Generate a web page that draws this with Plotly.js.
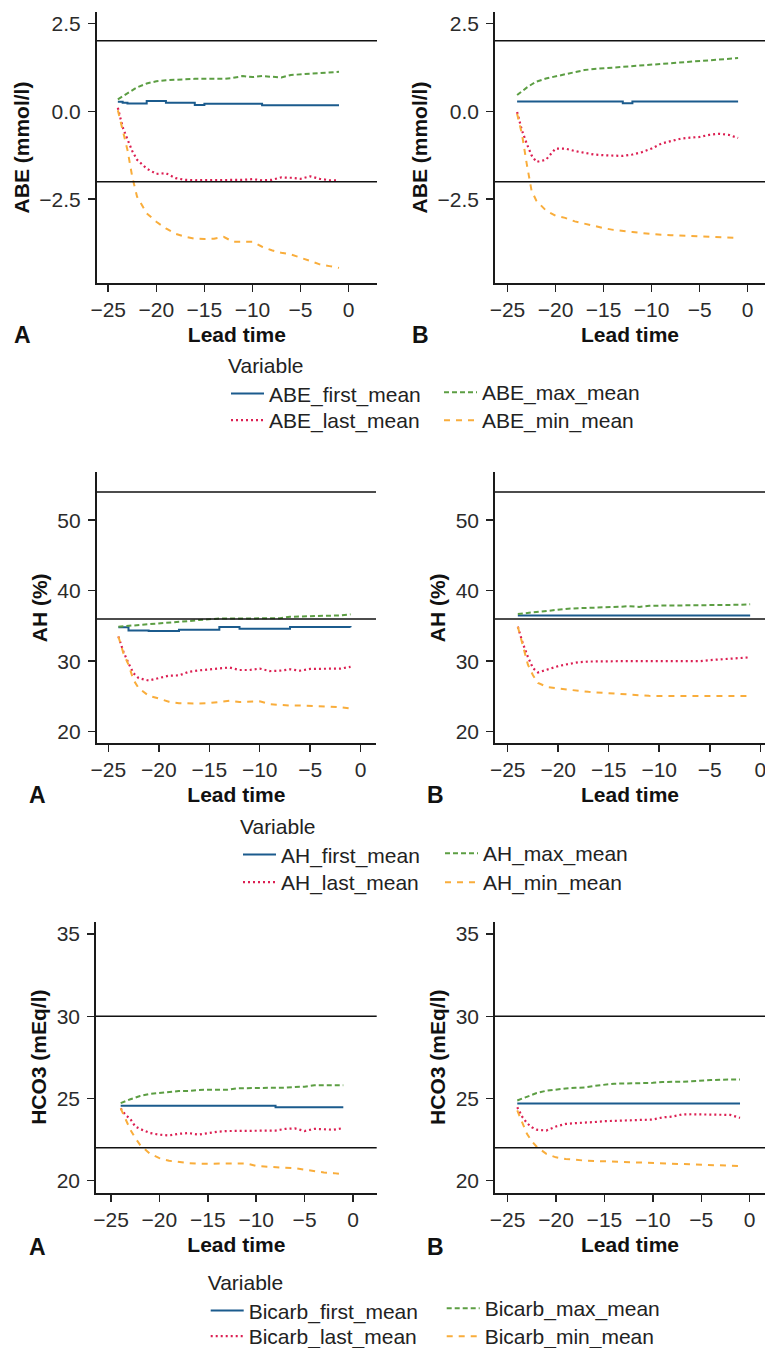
<!DOCTYPE html>
<html><head><meta charset="utf-8">
<script src="https://cdn.plot.ly/plotly-3.0.1.min.js"></script>
<style>html,body{margin:0;padding:0;background:#fff}#chart{width:765px;height:1348px}</style>
</head><body><div id="chart"></div>
<script>
// Lead time (hours)
const leadTime = [-24, -23.5, -23, -22.5, -22, -21, -20, -19, -18, -17, -16, -15, -14, -13, -12, -11, -10, -9, -8, -7, -6, -5, -4, -3, -2, -1];
const xTicks = [-25, -20, -15, -10, -5, 0];

// ABE (mmol/l) - panel A
const abeA_first = [0.27,0.24,0.22,0.22,0.22,0.29,0.29,0.24,0.24,0.24,0.18,0.21,0.21,0.21,0.21,0.21,0.21,0.17,0.17,0.17,0.17,0.17,0.17,0.17,0.17,0.17];
const abeA_max   = [0.34,0.42,0.5,0.6,0.68,0.79,0.85,0.88,0.9,0.92,0.92,0.92,0.92,0.92,0.95,1.0,0.97,1.0,0.98,0.96,1.03,1.05,1.06,1.08,1.1,1.12];
const abeA_last  = [0.1,-0.45,-0.8,-1.13,-1.38,-1.63,-1.78,-1.76,-1.9,-1.95,-1.96,-1.96,-1.96,-1.96,-1.96,-1.95,-1.93,-1.96,-1.95,-1.88,-1.89,-1.92,-1.85,-1.92,-1.96,-1.97];
const abeA_min   = [0.03,-0.5,-1.1,-1.87,-2.43,-2.9,-3.14,-3.33,-3.48,-3.57,-3.62,-3.63,-3.62,-3.57,-3.71,-3.71,-3.71,-3.85,-3.95,-4.02,-4.07,-4.16,-4.25,-4.35,-4.4,-4.45];
// ABE - panel B
const abeB_first = [0.28,0.28,0.28,0.28,0.28,0.28,0.28,0.28,0.28,0.28,0.28,0.28,0.28,0.23,0.28,0.28,0.28,0.28,0.28,0.28,0.28,0.28,0.28,0.28,0.28,0.28];
const abeB_max   = [0.46,0.57,0.67,0.76,0.84,0.93,1.0,1.05,1.11,1.17,1.2,1.22,1.23,1.25,1.27,1.3,1.32,1.34,1.36,1.38,1.41,1.43,1.44,1.46,1.49,1.51];
const abeB_last  = [-0.02,-0.54,-0.92,-1.25,-1.44,-1.38,-1.06,-1.06,-1.13,-1.19,-1.23,-1.25,-1.27,-1.27,-1.23,-1.16,-1.06,-0.92,-0.85,-0.78,-0.75,-0.73,-0.67,-0.64,-0.67,-0.76];
const abeB_min   = [-0.07,-0.64,-1.49,-2.25,-2.54,-2.82,-2.97,-3.03,-3.13,-3.2,-3.25,-3.32,-3.37,-3.41,-3.43,-3.46,-3.49,-3.51,-3.52,-3.53,-3.55,-3.56,-3.57,-3.58,-3.59,-3.6];

// AH (%) - panel A
const ahA_first = [34.8,34.8,34.35,34.35,34.35,34.3,34.3,34.3,34.45,34.45,34.45,34.45,34.85,34.85,34.6,34.6,34.6,34.6,34.6,34.85,34.85,34.85,34.85,34.85,34.85,34.8];
const ahA_max   = [34.9,34.95,35.0,35.1,35.15,35.25,35.4,35.45,35.5,35.7,35.85,36.0,36.05,36.05,36.07,36.1,36.1,36.1,36.1,36.3,36.33,36.35,36.38,36.42,36.5,36.65];
const ahA_last  = [33.5,31.35,29.7,28.28,27.6,27.25,27.6,27.95,27.98,28.5,28.7,28.8,28.9,29.1,28.75,28.75,28.95,28.6,28.65,28.85,28.65,28.9,28.92,28.93,28.95,29.2];
const ahA_min   = [33.5,31.1,29.5,27.33,26.2,25.1,24.7,24.25,24.05,24.0,24.0,24.05,24.2,24.4,24.2,24.2,24.3,23.9,23.75,23.7,23.7,23.68,23.6,23.55,23.45,23.28];
// AH - panel B
const ahB_first = [36.5,36.5,36.5,36.5,36.5,36.5,36.5,36.5,36.5,36.5,36.5,36.5,36.5,36.5,36.5,36.5,36.5,36.5,36.5,36.5,36.5,36.5,36.5,36.5,36.5,36.5];
const ahB_max   = [36.7,36.78,36.85,36.95,37.05,37.2,37.35,37.45,37.52,37.55,37.6,37.65,37.72,37.8,37.7,37.87,37.88,37.88,37.88,37.88,37.88,37.88,37.9,37.9,38.0,38.07];
const ahB_last  = [34.9,32.5,30.6,29.0,28.4,28.85,29.3,29.6,29.85,29.95,30.0,30.0,30.0,30.0,30.0,30.0,30.0,30.0,30.0,30.0,30.0,30.15,30.25,30.35,30.45,30.55];
const ahB_min   = [34.9,32.06,29.5,28.0,26.9,26.3,26.1,25.95,25.8,25.65,25.55,25.4,25.3,25.2,25.12,25.08,25.05,25.05,25.05,25.05,25.05,25.05,25.05,25.05,25.05,25.05];

// HCO3 (mEq/l) - panel A
const bicA_first = [24.55,24.55,24.55,24.55,24.55,24.55,24.55,24.55,24.55,24.55,24.55,24.55,24.55,24.55,24.55,24.55,24.55,24.55,24.47,24.47,24.47,24.47,24.47,24.47,24.47,24.47];
const bicA_max   = [24.72,24.85,24.95,25.05,25.15,25.28,25.35,25.42,25.45,25.45,25.52,25.53,25.53,25.53,25.62,25.63,25.63,25.63,25.63,25.66,25.7,25.72,25.8,25.81,25.81,25.81];
const bicA_last  = [24.4,24.0,23.75,23.3,23.15,22.9,22.8,22.75,22.85,22.9,22.8,22.9,22.98,23.02,23.03,23.04,23.05,23.05,23.05,23.15,23.18,23.02,23.15,23.13,23.1,23.2];
const bicA_min   = [24.4,23.7,23.1,22.6,22.18,21.65,21.37,21.21,21.13,21.07,21.03,21.03,21.03,21.03,21.04,21.05,20.9,20.85,20.8,20.78,20.76,20.66,20.56,20.5,20.46,20.38];
// HCO3 - panel B
const bicB_first = [24.7,24.7,24.7,24.7,24.7,24.7,24.7,24.7,24.7,24.7,24.7,24.7,24.7,24.7,24.7,24.7,24.7,24.7,24.7,24.7,24.7,24.7,24.7,24.7,24.7,24.7];
const bicB_max   = [24.88,25.0,25.12,25.23,25.33,25.47,25.55,25.61,25.65,25.67,25.77,25.83,25.9,25.91,25.91,25.92,25.95,26.0,26.0,26.02,26.05,26.1,26.12,26.14,26.15,26.16];
const bicB_last  = [24.47,23.9,23.5,23.25,23.1,23.05,23.3,23.45,23.5,23.52,23.57,23.62,23.65,23.68,23.7,23.7,23.72,23.85,23.9,24.03,24.04,24.04,24.04,24.04,24.0,23.82];
const bicB_min   = [24.27,23.55,22.85,22.4,22.07,21.63,21.42,21.32,21.26,21.22,21.2,21.18,21.16,21.14,21.12,21.1,21.07,21.05,21.03,21.02,21.0,20.98,20.96,20.9,20.89,20.89];

// Reference limits
const refABE = [2, -2];
const refAH = [54, 36];
const refHCO3 = [30, 22];

// Row labels
const prefixes = ['ABE', 'AH', 'Bicarb'];
const yTitles = ['ABE (mmol/l)', 'AH (%)', 'HCO3 (mEq/l)'];
const panelLetters = ['A', 'B'];

// ---------- styling ----------
const W = 765, H = 1348;
const FONT = 'Liberation Sans, Arial, Helvetica, sans-serif';
const styles = {
  first: {color: '#1b5b8d', dash: 'solid', width: 2},
  max:   {color: '#5c9e43', dash: '5px,3px', width: 2},
  last:  {color: '#dc1f52', dash: '2px,3px', width: 2.2},
  min:   {color: '#f9ad3b', dash: '6px,6px', width: 2}
};
const statOrder = ['first', 'max', 'last', 'min'];

const rows = [
  {data: [{first: abeA_first, max: abeA_max, last: abeA_last, min: abeA_min},
          {first: abeB_first, max: abeB_max, last: abeB_last, min: abeB_min}],
   refs: refABE, yr: [-4.88, 2.82], ytv: [-2.5, 0, 2.5], yfmt: '.1f',
   xr: [[-26.2, 2.95], [-26.3, 1.8]],
   top: 12, bot: 283, xl: [[96.7, 377], [495, 765]],
   leg: {titleY: 367, item1Y: 393, item2Y: 421, col1X: 231, col2X: 444}},
  {data: [{first: ahA_first, max: ahA_max, last: ahA_last, min: ahA_min},
          {first: ahB_first, max: ahB_max, last: ahB_last, min: ahB_min}],
   refs: refAH, yr: [18.35, 56.8], ytv: [20, 30, 40, 50], yfmt: 'd',
   xr: [[-26.15, 1.52], [-26.26, 0.47]],
   top: 472.3, bot: 743.3, xl: [[96.7, 376], [495, 765]],
   leg: {titleY: 828, item1Y: 854, item2Y: 883, col1X: 243, col2X: 445}},
  {data: [{first: bicA_first, max: bicA_max, last: bicA_last, min: bicA_min},
          {first: bicB_first, max: bicB_max, last: bicB_last, min: bicB_min}],
   refs: refHCO3, yr: [19.27, 35.75], ytv: [20, 25, 30, 35], yfmt: 'd',
   xr: [[-26.55, 2.45], [-26.3, 1.58]],
   top: 921.7, bot: 1192.7, xl: [[96, 376.7], [495, 765]],
   leg: {titleY: 1284, item1Y: 1309, item2Y: 1337, col1X: 210.7, col2X: 446.7}}
];

const traces = [];
const layout = {
  width: W, height: H,
  margin: {l: 0, r: 0, t: 0, b: 0, autoexpand: false},
  paper_bgcolor: '#ffffff', plot_bgcolor: '#ffffff',
  font: {family: FONT, size: 21, color: '#222'},
  shapes: [], annotations: []
};

const titleFont = {family: FONT, size: 21, color: '#111', weight: 'bold'};
const legendKey = n => n === 1 ? 'legend' : 'legend' + n;

let axN = 0;
rows.forEach((row, r) => {
  // one legend box per legend entry so each row/column sits exactly
  const legFor = {first: legendKey(4 * r + 1), max: legendKey(4 * r + 2),
                  last: legendKey(4 * r + 3), min: legendKey(4 * r + 4)};
  for (let p = 0; p < 2; p++) {
    axN++;
    const xa = axN === 1 ? 'x' : 'x' + axN;
    const ya = axN === 1 ? 'y' : 'y' + axN;
    const xk = axN === 1 ? 'xaxis' : 'xaxis' + axN;
    const yk = axN === 1 ? 'yaxis' : 'yaxis' + axN;
    layout[xk] = {
      domain: [row.xl[p][0] / W, row.xl[p][1] / W],
      anchor: ya, range: row.xr[p],
      tickmode: 'array', tickvals: xTicks,
      ticks: 'outside', ticklen: 7, tickwidth: 1.5, tickcolor: '#222',
      showline: true, linecolor: '#1a1a1a', linewidth: 1.8,
      showgrid: false, zeroline: false,
      tickfont: {family: FONT, size: 21, color: '#2b2b2b'},
      ticklabelstandoff: 0, ticklabeloverflow: 'allow',
      automargin: false,
      title: {text: 'Lead time', font: titleFont, standoff: 7}
    };
    layout[yk] = {
      domain: [1 - row.bot / H, 1 - row.top / H],
      anchor: xa, range: row.yr,
      tickmode: 'array', tickvals: row.ytv, tickformat: row.yfmt,
      ticks: 'outside', ticklen: 7, tickwidth: 1.5, tickcolor: '#222',
      showline: true, linecolor: '#1a1a1a', linewidth: 1.8,
      showgrid: false, zeroline: false,
      tickfont: {family: FONT, size: 21, color: '#2b2b2b'},
      ticklabelstandoff: 3, automargin: false,
      title: {text: yTitles[r], font: titleFont, standoff: 4}
    };
    row.refs.forEach(v => {
      layout.shapes.push({type: 'line', xref: xa + ' domain', yref: ya,
        x0: 0, x1: 1, y0: v, y1: v, line: {color: '#111', width: 1.5}, layer: 'above'});
    });
    layout.annotations.push({
      text: '<b>' + panelLetters[p] + '</b>', xref: 'paper', yref: 'paper',
      x: (p === 0 ? (r === 0 ? 12 : 26.7) : (r === 0 ? 410 : 424.5)) / W,
      y: 1 - (row.bot + (r === 2 ? 54 : 52)) / H,
      xanchor: 'left', yanchor: 'middle', showarrow: false,
      font: {family: FONT, size: 23, color: '#111'}
    });
    statOrder.forEach(s => {
      const st = styles[s];
      traces.push({
        type: 'scatter', mode: 'lines', x: leadTime, y: row.data[p][s],
        xaxis: xa, yaxis: ya,
        name: prefixes[r] + '_' + s + '_mean',
        legend: legFor[s],
        showlegend: p === 0,
        line: {color: st.color, dash: st.dash, width: st.width, shape: s === 'first' ? 'hv' : 'linear'},
        hoverinfo: 'skip'
      });
    });
  }
  const legBase = {orientation: 'v', bgcolor: 'rgba(0,0,0,0)', borderwidth: 0,
    font: {family: FONT, size: 21, color: '#222'}, xanchor: 'left', yanchor: 'top',
    itemwidth: 33, tracegroupgap: 0, traceorder: 'normal'};
  const L = row.leg;
  layout[legFor.first] = Object.assign({}, legBase, {
    x: (L.col1X - 5) / W, y: 1 - (L.titleY - 21) / H,
    title: {text: 'Variable', side: 'top', font: {family: FONT, size: 21, color: '#222'}}
  });
  layout[legFor.last] = Object.assign({}, legBase, {x: (L.col1X - 5) / W, y: 1 - (L.item2Y - 21) / H});
  layout[legFor.max] = Object.assign({}, legBase, {x: (L.col2X - 5) / W, y: 1 - (L.item1Y - 21) / H});
  layout[legFor.min] = Object.assign({}, legBase, {x: (L.col2X - 5) / W, y: 1 - (L.item2Y - 21) / H});
});

Plotly.newPlot('chart', traces, layout, {staticPlot: true, displayModeBar: false});
</script>
</body></html>
